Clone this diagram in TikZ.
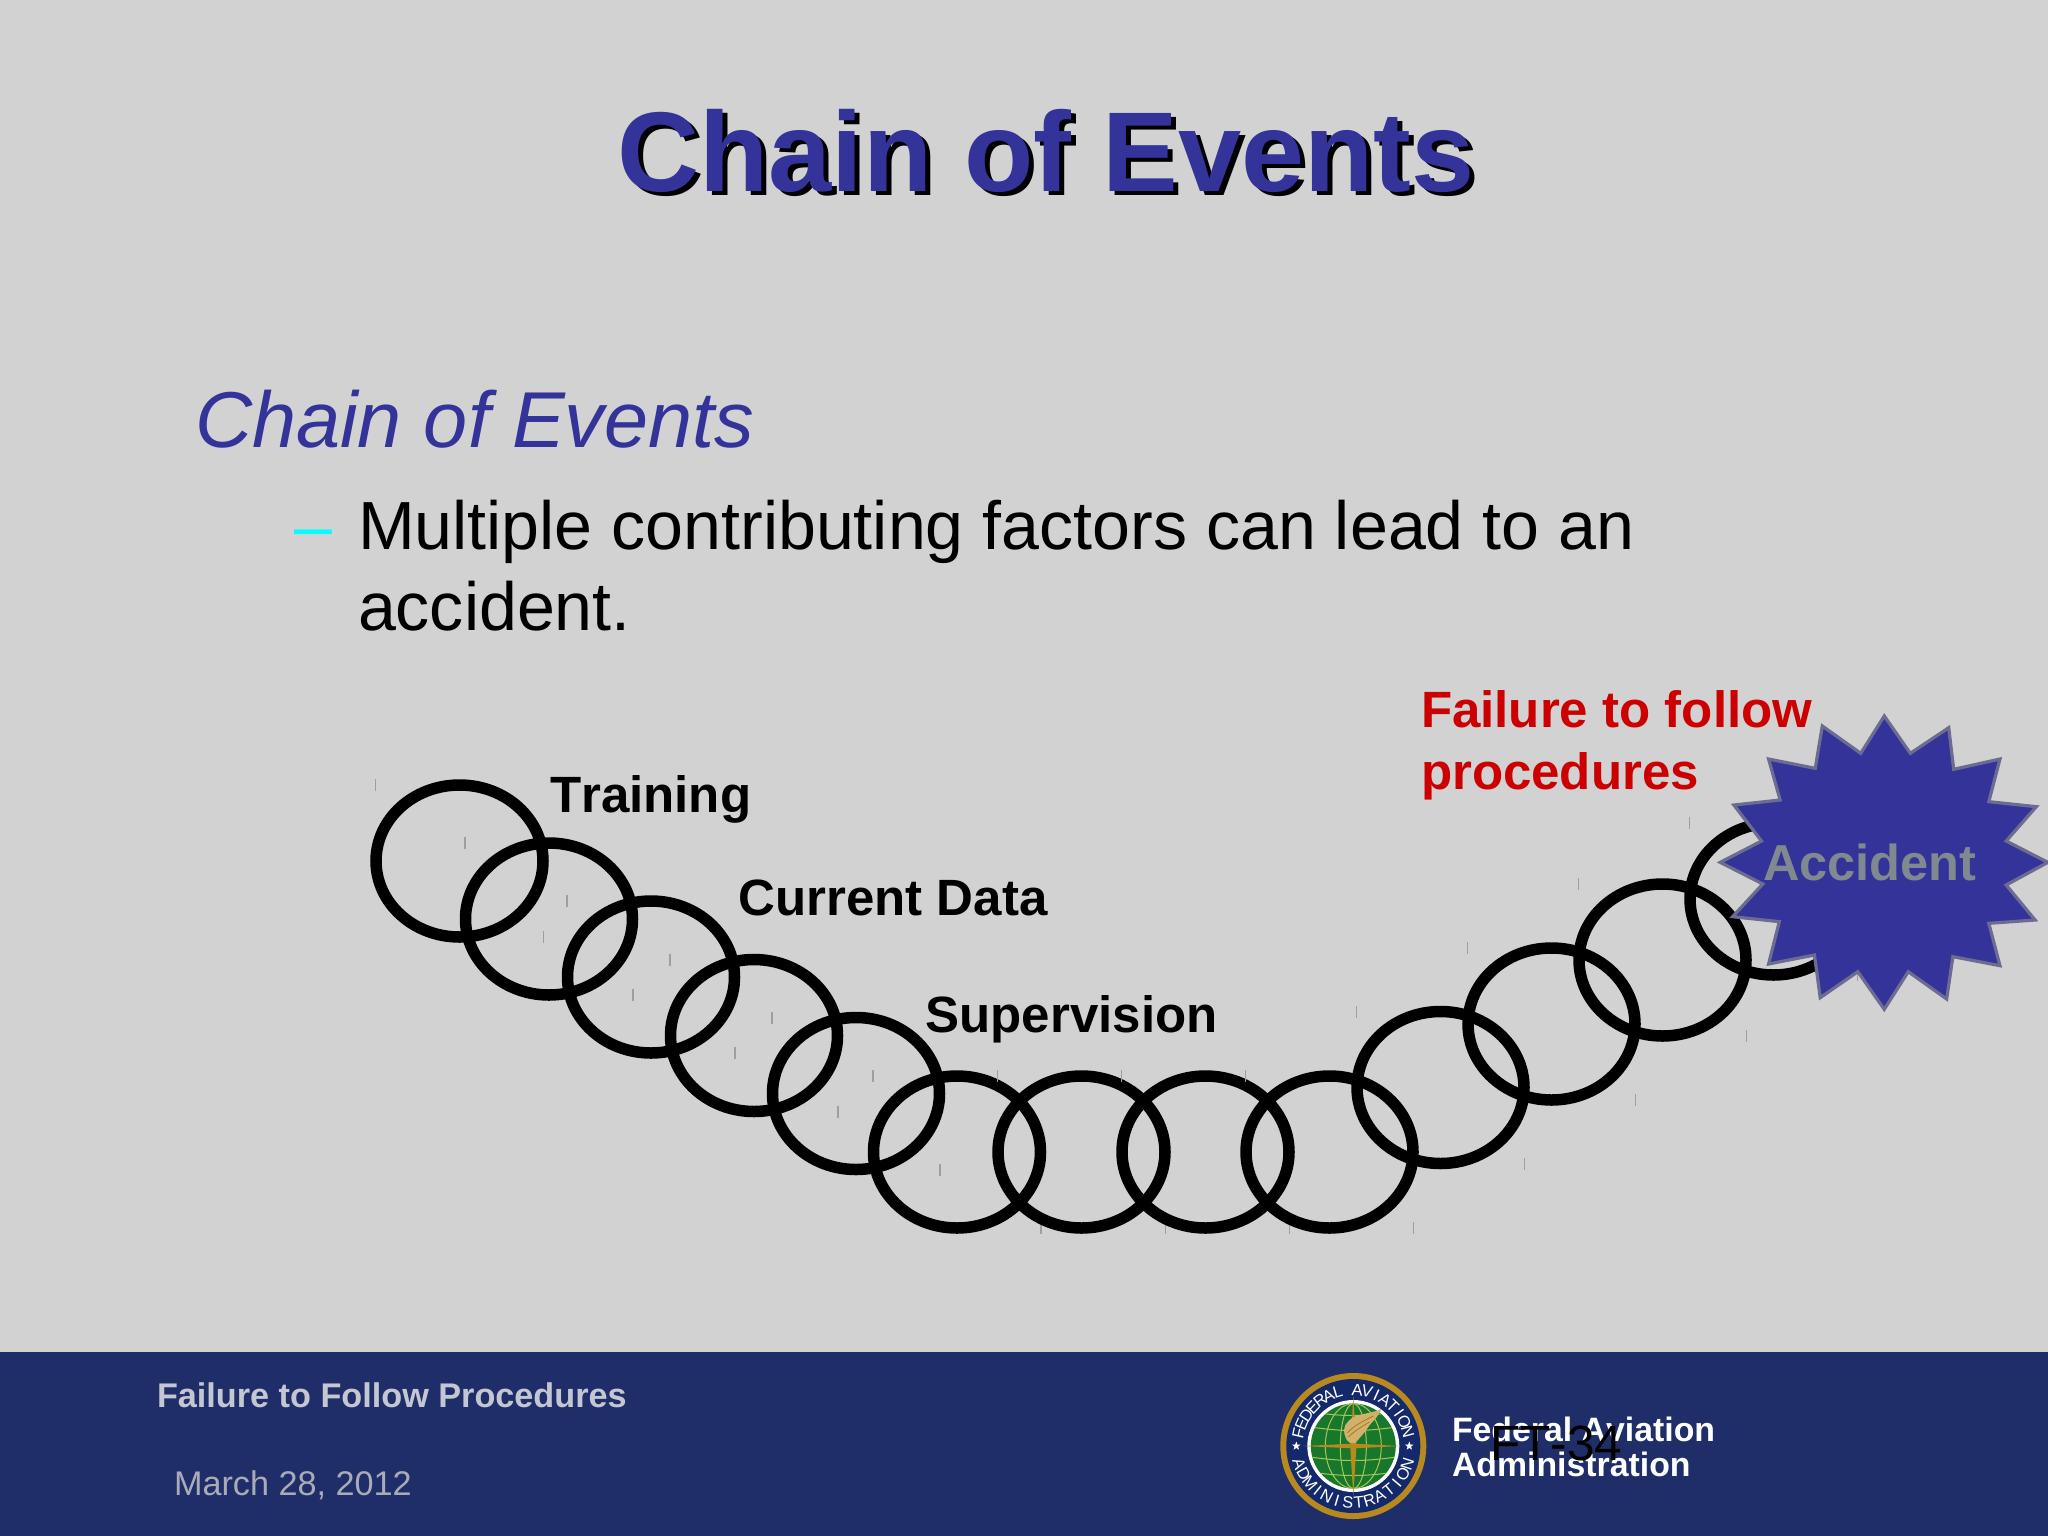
\documentclass[tikz,border=0pt]{standalone}
\usepackage{fontspec}
\usetikzlibrary{shapes.geometric}
\setmainfont[Kerning=Off]{Liberation Sans}
\newcommand\pxf[1]{\fontsize{\fpeval{#1*0.28453}pt}{\fpeval{#1*0.34}pt}\selectfont}
\definecolor{bgc}{HTML}{D2D2D3}
\definecolor{barc}{HTML}{1F2E69}
\definecolor{indigo}{HTML}{333399}
\definecolor{dashc}{HTML}{00FFFF}
\definecolor{sealgold}{HTML}{B8891E}
\definecolor{sealnavy}{HTML}{14296B}
\definecolor{sealgreen}{HTML}{17782C}
\definecolor{sealline}{HTML}{A9C45A}
\tikzset{
  txt/.style={inner sep=0,outer sep=0,anchor=base west},
  ringline/.style={draw=black,line width=11.5*0.2845pt},
  tick/.style={draw=gray!75,line width=1.3*0.2845pt},
  sealletter/.style={inner sep=0,outer sep=0,anchor=base,text=white,font=\pxf{16.5}},
}
\begin{document}
\begin{tikzpicture}[x=0.01cm,y=-0.01cm]
\useasboundingbox (0,0) rectangle (2048,1536);
\fill[bgc] (0,0) rectangle (2048,1536);
\fill[barc] (0,1352) rectangle (2048,1536);
% title
\node[txt,text=black,font=\bfseries\pxf{113.4}] (titleshadow) at (622.5,195.5) {Chain of Events};
\node[txt,text=indigo,font=\bfseries\pxf{113.4}] (title) at (617.5,191) {Chain of Events};
% body
\node[txt,text=indigo,font=\itshape\pxf{79.2}] (head) at (195,447) {Chain of Events};
\node[txt,text=dashc,font=\pxf{68}] (dash) at (294,549) {–};
\node[txt,text=black,font=\pxf{68.1}] (line1) at (358,549) {Multiple contributing factors can lead to an};
\node[txt,text=black,font=\pxf{68.1}] (line2) at (358,630.5) {accident.};
% rings
\foreach \cx/\cy in {459.5/861,549/919,651/977,754/1035.5,856/1093.5,957/1152,1081.5/1152,1205.5/1152,1329.5/1152,1440.5/1087.5,1551.5/1024,1662.5/960,1773.5/899}{
  \draw[ringline] (\cx,\cy) ellipse [x radius=83.5,y radius=76];
  \draw[tick] (\cx-84,\cy-82) -- (\cx-84,\cy-70);
  \draw[tick] (\cx+84,\cy+70) -- (\cx+84,\cy+82);
}
% labels
\node[txt,font=\bfseries\pxf{51}] (training) at (550,812) {Training};
\node[txt,font=\bfseries\pxf{51}] (current) at (738.5,915) {Current Data};
\node[txt,font=\bfseries\pxf{51}] (superv) at (925.5,1032.5) {Supervision};
\definecolor{redc}{HTML}{CC0000}
\node[txt,text=redc,font=\bfseries\pxf{51}] (fail1) at (1421,727.5) {Failure to follow};
\node[txt,text=redc,font=\bfseries\pxf{51}] (fail2) at (1421,789) {procedures};
% burst
\begin{scope}[shift={(1400,660)},xscale=1/2.42,yscale=1/3]
\filldraw[fill=indigo,draw=gray!85!blue,line width=3.2*0.2845pt,line join=miter]
 (1172,168)--(1235,280)--(1328,203)--(1340,328)--(1452,297)--(1425,425)--(1540,440)--(1467,543)
 --(1568,607)--(1467,675)--(1537,780)--(1425,790)--(1452,917)--(1338,890)--(1323,1017)--(1230,935)
 --(1172,1048)--(1108,935)--(1017,1013)--(1003,885)--(892,912)--(918,785)--(805,770)--(878,672)
 --(775,607)--(875,543)--(808,435)--(920,420)--(892,297)--(1005,325)--(1022,198)--(1115,280)--cycle;
\end{scope}
\definecolor{accc}{HTML}{808890}
\node[txt,text=accc,font=\bfseries\pxf{50.5}] (accident) at (1763,880) {Accident};
% footer
\definecolor{foot1}{HTML}{C4C6D2}
\definecolor{foot2}{HTML}{A9ABB6}
\node[txt,text=foot1,font=\bfseries\pxf{34.2}] (ftitle) at (157,1407) {Failure to Follow Procedures};
\node[txt,text=foot2,font=\pxf{34.2}] (fdate) at (174,1495) {March 28, 2012};
\node[txt,text=white,font=\bfseries\pxf{33.8}] (faa1) at (1452,1441) {Federal Aviation};
\node[txt,text=white,font=\bfseries\pxf{33.8}] (faa2) at (1452,1476) {Administration};
\node[txt,text=black,font=\pxf{49.5}] (ftnum) at (1490,1460.5) {FT-34};
% seal
\begin{scope}[shift={(1353.3,1446)},x=0.01cm,y=0.01cm]
\fill[sealgold] (0,0) circle [radius=73];
\fill[sealnavy] (0,0) circle [radius=67];
\fill[white] (0,0) circle [radius=46];
\fill[sealgreen] (0,0) circle [radius=42.5];
\begin{scope}
\clip (0,0) circle [radius=42.5];
\foreach \r in {13,28}{\draw[sealline,line width=1.0*0.2845pt] (0,0) ellipse [x radius=\r,y radius=42.5];}
\foreach \yy in {-30,-15,15,30}{\draw[sealline,line width=1.0*0.2845pt] (-43,\yy+4) to[bend right=8] (43,\yy+4);}
\end{scope}
% compass
\fill[sealgold] (-50,0)--(-3,2.2)--(-1.5,24)--(0,50)--(1.5,24)--(3,2.2)--(47,0)--(3,-2.2)--(0,-50)--(-3,-2.2)--cycle;
% wing
\fill[sealgold!65!white] (-3,3) .. controls (-10,7) and (-10,17) .. (-8,21) .. controls (-4,27) and (2,31) .. (6,31) .. controls (14,33) and (22,34) .. (28,37)
  .. controls (25,30) and (21,26) .. (18,23) .. controls (14,18) and (11,13) .. (8,10) -- (2,3) --cycle;
\draw[sealgold!90!black,line width=0.8*0.2845pt] (-6,13) .. controls (0,20) and (8,24) .. (20,30)
   (-5,9) .. controls (1,15) and (8,19) .. (16,24);
% lettering
\foreach \l [count=\i] in {F,E,D,E,R,A,L,{},A,V,I,A,T,I,O,N}{
  \pgfmathsetmacro{\a}{167-(\i-1)*(167-15)/15}
  \node[sealletter,rotate=\a-90] (sealtop\i) at (\a:50.5) {\l};
}
\foreach \l [count=\i] in {A,D,M,I,N,I,S,T,R,A,T,I,O,N}{
  \pgfmathsetmacro{\a}{198+(\i-1)*(342-198)/13}
  \node[sealletter,rotate=\a+90] (sealbot\i) at (\a:62.5) {\l};
}
\node[star,star points=5,star point ratio=2.4,fill=white,inner sep=0,minimum size=9*0.2845pt] (sealstarl) at (-57,0) {};
\node[star,star points=5,star point ratio=2.4,fill=white,inner sep=0,minimum size=9*0.2845pt] (sealstarr) at (56,0) {};
\end{scope}
\end{tikzpicture}
\end{document}
